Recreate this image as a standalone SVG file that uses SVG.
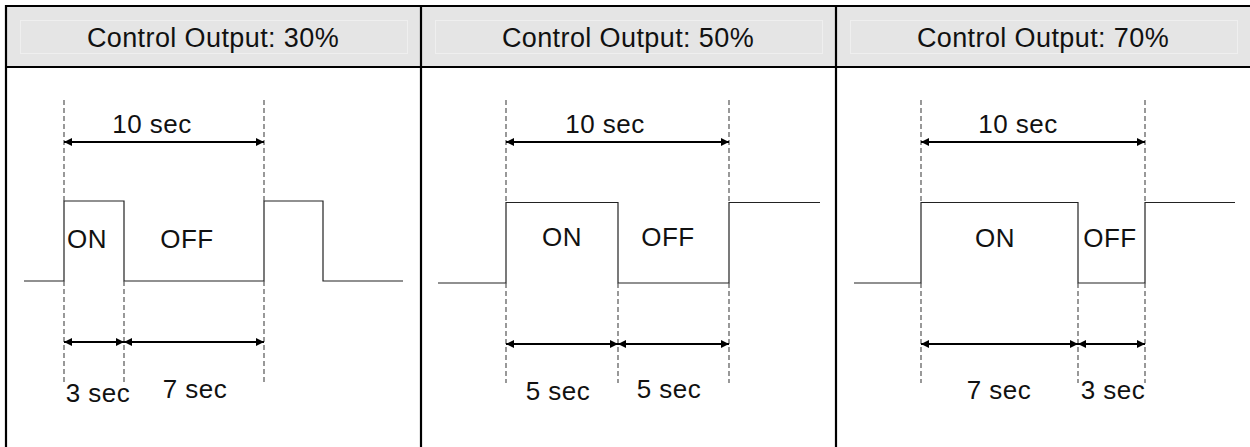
<svg xmlns="http://www.w3.org/2000/svg" width="1250" height="447" viewBox="0 0 1250 447">
<style>
.hdr{fill:#e5e5e5}
.inner{fill:none;stroke:#efefef;stroke-width:1}
.grid{stroke:#000;stroke-width:2.2;fill:none}
.t{font-family:"Liberation Sans",Arial,sans-serif;fill:#111;text-anchor:middle}
.h{font-size:27px;letter-spacing:0.4px}
.l{font-size:26px;letter-spacing:0.5px}
.wave{fill:none;stroke:#222;stroke-width:1.2}
.dash{stroke:#555;stroke-width:1.2;stroke-dasharray:5 3;fill:none}
.arr{stroke:#000;stroke-width:1.8;fill:none;marker-start:url(#ah);marker-end:url(#ah)}
</style>
<defs>
<marker id="ah" viewBox="0 0 10 10" refX="10" refY="5" markerWidth="9" markerHeight="8" markerUnits="userSpaceOnUse" orient="auto-start-reverse">
<path d="M0,0 L10,5 L0,10 z" fill="#000"/>
</marker>
</defs>
<rect width="1250" height="447" fill="#fff"/>
<g id="table">
<rect class="hdr" x="6" y="6" width="1244" height="61"/>
<rect class="inner" x="20.5" y="20.5" width="387" height="33"/>
<rect class="inner" x="435.5" y="20.5" width="387" height="33"/>
<rect class="inner" x="850.5" y="20.5" width="387" height="33"/>
<path class="grid" d="M5,6 H1250 M5,67 H1250 M6,5 V447 M421,5 V447 M836,5 V447"/>
</g>
<g id="panel-30">
<text class="t h" x="213" y="47">Control Output: 30%</text>
<path class="wave" d="M24,281 H64 V201 H124 V281 H264 V201 H323 V281 H403"/>
<path class="dash" d="M64,100 V201 M264,100 V201 M64,281 V382 M124,281 V382 M264,281 V382"/>
<text class="t l" x="152" y="133">10 sec</text>
<text class="t l" x="87" y="248">ON</text>
<text class="t l" x="187" y="248">OFF</text>
<text class="t l" x="98" y="402">3 sec</text>
<text class="t l" x="195" y="398">7 sec</text>
</g>
<g id="panel-50">
<text class="t h" x="628" y="47">Control Output: 50%</text>
<path class="wave" d="M438,283 H506 V202.5 H618 V283 H729 V202.5 H820"/>
<path class="dash" d="M506,100 V202 M729,100 V202 M506,283 V383 M618,283 V383 M729,283 V383"/>
<text class="t l" x="605" y="133">10 sec</text>
<text class="t l" x="562" y="246">ON</text>
<text class="t l" x="668" y="246">OFF</text>
<text class="t l" x="558" y="400">5 sec</text>
<text class="t l" x="669" y="398">5 sec</text>
</g>
<g id="panel-70">
<text class="t h" x="1043" y="47">Control Output: 70%</text>
<path class="wave" d="M854,283 H921 V202.5 H1078 V283 H1145 V202.5 H1235"/>
<path class="dash" d="M921,100 V202 M1145,100 V202 M921,283 V383 M1078,283 V383 M1145,283 V383"/>
<text class="t l" x="1018" y="133">10 sec</text>
<text class="t l" x="995" y="247">ON</text>
<text class="t l" x="1110" y="247">OFF</text>
<text class="t l" x="999" y="399">7 sec</text>
<text class="t l" x="1113" y="399">3 sec</text>
</g>
<g id="connectors">
<line class="arr" x1="64" y1="142" x2="264" y2="142"/>
<line class="arr" x1="64" y1="342" x2="124" y2="342"/>
<line class="arr" x1="124" y1="342" x2="264" y2="342"/>
<line class="arr" x1="506" y1="142" x2="729" y2="142"/>
<line class="arr" x1="506" y1="344" x2="618" y2="344"/>
<line class="arr" x1="618" y1="344" x2="729" y2="344"/>
<line class="arr" x1="921" y1="142" x2="1145" y2="142"/>
<line class="arr" x1="921" y1="344" x2="1078" y2="344"/>
<line class="arr" x1="1078" y1="344" x2="1145" y2="344"/>
</g>
</svg>
